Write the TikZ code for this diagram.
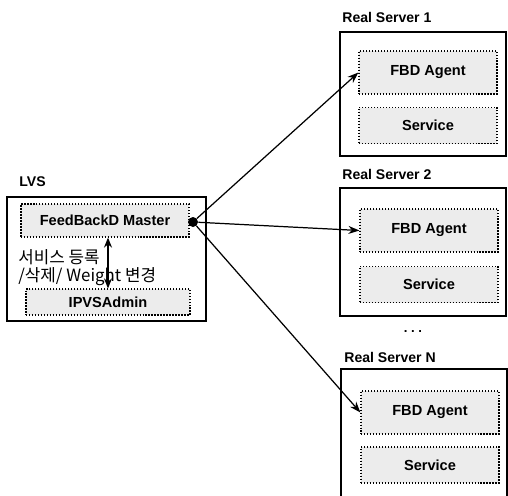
\documentclass[tikz,border=0pt]{standalone}
\usepackage{fontspec}
\setmainfont{Liberation Sans}
\newfontfamily\kor{Noto Sans CJK KR}
\usepackage{tikz}
\usepackage{xcolor}
\usetikzlibrary{arrows.meta, positioning, calc}
\definecolor{cBox}{RGB}{236,236,236}
\tikzset{
	outerbox/.style={rectangle, draw=black, line width=0.7pt, fill=white, inner sep=0pt},
	innerbox/.style={rectangle, draw=black, line width=0.7pt, fill=cBox, densely dotted, text=black, inner sep=0pt, align=center},
	title/.style   ={anchor=west, inner sep=0pt, font=\fontsize{8}{9}\selectfont\bfseries},
	hubdot/.style  ={circle, fill=black, inner sep=0pt, minimum size=0.2cm},
	link/.style    ={-{Stealth[length=2.2mm, width=1.6mm]}, line width=0.7pt},
}

\begin{document}
\begin{tikzpicture}[x=0.02cm, y=-0.02cm, font=\fontsize{8.3}{9}\selectfont\bfseries]
	\clip (0,0) rectangle (508,495);
	% LVS
	\node[title] (lvsl) at (19,182) {LVS};
	\node[outerbox, minimum width=3.98cm, minimum height=2.48cm] (lvs) at (106.5,259) {};
	\node[innerbox, minimum width=3.36cm, minimum height=0.66cm] (master) at (105,220.5) {FeedBackD Master};
	\node[innerbox, minimum width=3.28cm, minimum height=0.52cm] (ipvs) at (108,302) {IPVSAdmin};
	\node[anchor=west, align=left, inner sep=0pt, font=\kor\fontsize{9.6}{10.2}\selectfont] (cmd) at (18,268) {서비스 등록\\/삭제/ Weight 변경};
	\draw[{Stealth[length=2mm, width=1.6mm]}-{Stealth[length=2mm, width=1.6mm]}, line width=0.9pt] (ipvs.north |- master.south) -- (ipvs.north);
	\node[hubdot] (hub) at (193,222) {};
	% real servers
	\node[title] (rs1l) at (342,17) {Real Server 1};
	\node[outerbox, minimum width=3.32cm, minimum height=2.48cm] (rs1) at (423,94) {};
	\node[innerbox, minimum width=2.76cm, minimum height=0.86cm] (fbd1) at (428,72.5) {FBD Agent};
	\node[innerbox, minimum width=2.76cm, minimum height=0.72cm] (svc1) at (428,125.5) {Service};
	\node[title] (rs2l) at (342,174) {Real Server 2};
	\node[outerbox, minimum width=3.32cm, minimum height=2.56cm] (rs2) at (423,252) {};
	\node[innerbox, minimum width=2.76cm, minimum height=0.86cm] (fbd2) at (429,230.5) {FBD Agent};
	\node[innerbox, minimum width=2.76cm, minimum height=0.72cm] (svc2) at (429,284.5) {Service};
	\node[inner sep=0pt, font=\fontsize{7.5}{8}\selectfont\bfseries] (dots) at (413,332) {.\ .\ .};
	\node[title] (rsnl) at (344,357) {Real Server N};
	\node[outerbox, minimum width=3.32cm, minimum height=2.66cm] (rsn) at (424,435.5) {};
	\node[innerbox, minimum width=2.76cm, minimum height=0.86cm] (fbdn) at (430,412.5) {FBD Agent};
	\node[innerbox, minimum width=2.76cm, minimum height=0.72cm] (svcn) at (430,465) {Service};
	% links
	\draw[link] (hub) -- (fbd1.west);
	\draw[link] (hub) -- (fbd2.west);
	\draw[link] (hub) -- (fbdn.west);
\end{tikzpicture}
\end{document}
